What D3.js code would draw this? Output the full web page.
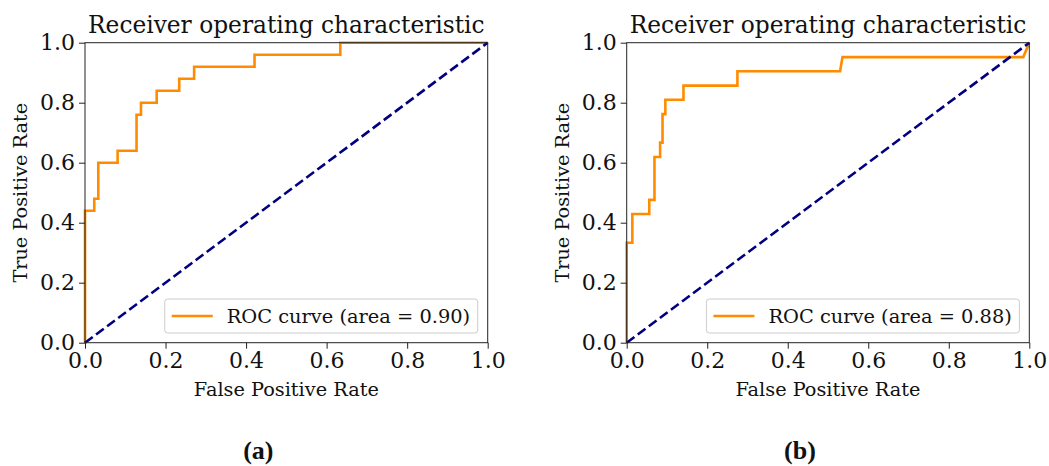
<!DOCTYPE html>
<html><head><meta charset="utf-8">
<script src="https://cdn.jsdelivr.net/npm/d3@7"></script>
<style>
html,body{margin:0;padding:0;background:#fff;}
svg{display:block;}
</style></head>
<body>
<svg id="chart" width="1049" height="466"></svg>
<script>
// ---- data ----
const ticks = [0, 0.2, 0.4, 0.6, 0.8, 1.0];
const tickLabels = ["0.0", "0.2", "0.4", "0.6", "0.8", "1.0"];
const fprA = [0, 0, 0.023, 0.023, 0.033, 0.033, 0.081, 0.081, 0.128, 0.128, 0.139, 0.139, 0.178, 0.178, 0.234, 0.234, 0.271, 0.271, 0.421, 0.421, 0.634, 0.634, 1.0];
const tprA = [0, 0.44, 0.44, 0.48, 0.48, 0.60, 0.60, 0.64, 0.64, 0.76, 0.76, 0.80, 0.80, 0.84, 0.84, 0.88, 0.88, 0.92, 0.92, 0.96, 0.96, 1.0, 1.0];
const fprB = [0, 0, 0.014, 0.014, 0.056, 0.056, 0.069, 0.069, 0.083, 0.083, 0.089, 0.089, 0.096, 0.096, 0.141, 0.141, 0.275, 0.275, 0.530, 0.536, 0.985, 1.0];
const tprB = [0, 0.333, 0.333, 0.429, 0.429, 0.476, 0.476, 0.619, 0.619, 0.667, 0.667, 0.762, 0.762, 0.810, 0.810, 0.857, 0.857, 0.905, 0.905, 0.952, 0.952, 1.0];
const chanceX = [0, 1];
const chanceY = [0, 1];
const aucLabels = ["ROC curve (area = 0.90)", "ROC curve (area = 0.88)"];
const titles = ["Receiver operating characteristic", "Receiver operating characteristic"];
const captions = ["(a)", "(b)"];
const xLabel = "False Positive Rate";
const yLabel = "True Positive Rate";

const svg = d3.select("#chart");
const panels = [
  {x0: 85, x1: 487.7, fpr: fprA, tpr: tprA, auc: aucLabels[0], title: titles[0], cap: captions[0], ylabX: 20},
  {x0: 626.7, x1: 1029.3, fpr: fprB, tpr: tprB, auc: aucLabels[1], title: titles[1], cap: captions[1], ylabX: 562}
];
const yTop = 42.7, yBot = 342.7;
const serif = "DejaVu Serif";

panels.forEach(p => {
  const x = d3.scaleLinear().domain([0, 1]).range([p.x0, p.x1]);
  const y = d3.scaleLinear().domain([0, 1]).range([yBot, yTop]);
  const g = svg.append("g");

  // ROC curve
  const line = d3.line().x(d => x(d[0])).y(d => y(d[1]));
  const pts = p.fpr.map((v, i) => [v, p.tpr[i]]);
  g.append("path").attr("d", line(pts)).attr("fill", "none")
    .attr("stroke", "darkorange").attr("stroke-width", 2.6).attr("stroke-linejoin", "miter");
  // chance line
  const cpts = chanceX.map((v, i) => [v, chanceY[i]]);
  g.append("path").attr("d", line(cpts)).attr("fill", "none")
    .attr("stroke", "navy").attr("stroke-width", 2.6).attr("stroke-dasharray", "9.6,4.2");

  // axes
  const xAxis = d3.axisBottom(x).tickValues(ticks).tickFormat((d, i) => tickLabels[i]).tickSize(6).tickPadding(4);
  const yAxis = d3.axisLeft(y).tickValues(ticks).tickFormat((d, i) => tickLabels[i]).tickSize(6).tickPadding(4);
  const gx = g.append("g").attr("transform", `translate(0,${yBot})`).call(xAxis);
  const gy = g.append("g").attr("transform", `translate(${p.x0},0)`).call(yAxis);
  [gx, gy].forEach(a => {
    a.select(".domain").remove();
    a.selectAll(".tick line").attr("stroke", "#222").attr("stroke-width", 1);
    a.selectAll(".tick text").attr("font-family", serif).attr("font-size", 22).attr("fill", "#111");
  });
  // frame
  g.append("rect").attr("x", p.x0).attr("y", yTop).attr("width", p.x1 - p.x0).attr("height", yBot - yTop)
    .attr("fill", "none").attr("stroke", "#222").attr("stroke-width", 1);

  // title
  g.append("text").attr("x", (p.x0 + p.x1) / 2).attr("y", 33).attr("text-anchor", "middle")
    .attr("font-family", serif).attr("font-size", 23.3).attr("fill", "#111").text(p.title);
  // axis labels
  g.append("text").attr("x", (p.x0 + p.x1) / 2).attr("y", 396).attr("text-anchor", "middle")
    .attr("font-family", serif).attr("font-size", 19.3).attr("fill", "#111").text(xLabel);
  g.append("text").attr("transform", `translate(${p.ylabX + 7},${(yTop + yBot) / 2}) rotate(-90)`)
    .attr("text-anchor", "middle").attr("font-family", serif).attr("font-size", 19.3).attr("fill", "#111").text(yLabel);

  // legend
  const lx = x(0.198), ly = 299;
  g.append("rect").attr("x", lx).attr("y", ly).attr("width", 313).attr("height", 34).attr("rx", 3)
    .attr("fill", "#fff").attr("fill-opacity", 0.8).attr("stroke", "#ccc").attr("stroke-width", 1);
  g.append("line").attr("x1", lx + 7).attr("x2", lx + 48).attr("y1", ly + 17).attr("y2", ly + 17)
    .attr("stroke", "darkorange").attr("stroke-width", 2.6);
  g.append("text").attr("x", lx + 62).attr("y", ly + 23.5).attr("font-family", serif).attr("font-size", 19.4)
    .attr("fill", "#111").text(p.auc);

  // caption
  svg.append("text").attr("x", (p.x0 + p.x1) / 2 - 28).attr("y", 459).attr("text-anchor", "middle")
    .attr("font-family", "Liberation Serif").attr("font-weight", "bold").attr("font-size", 26)
    .attr("fill", "#111").text(p.cap);
});
</script>
</body></html>
